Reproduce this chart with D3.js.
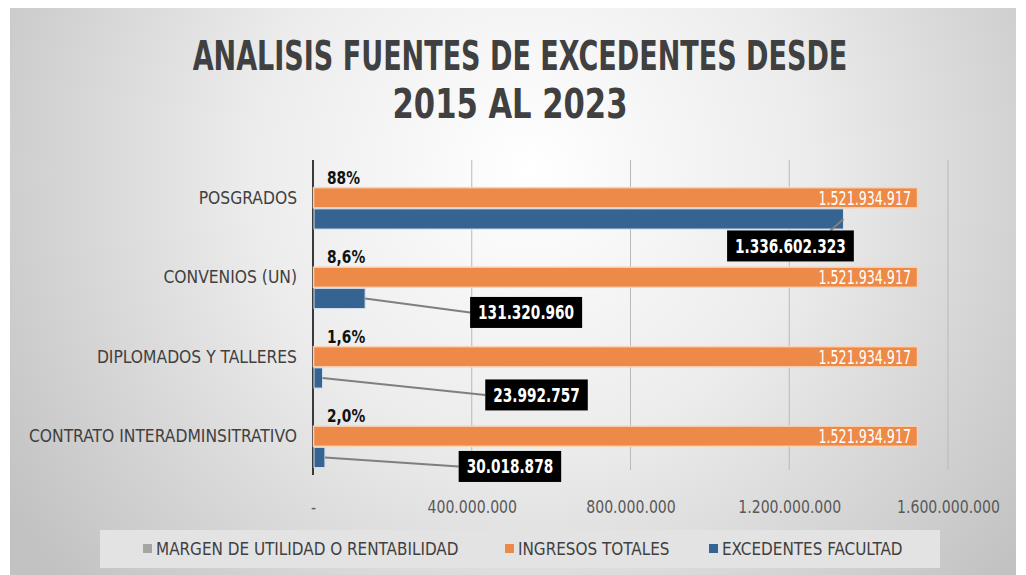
<!DOCTYPE html>
<html>
<head>
<meta charset="utf-8">
<script src="https://cdn.jsdelivr.net/npm/d3@7"></script>
<style>
  body { margin: 0; background: #fff; }
  svg { display: block; }
  text { font-family: "DejaVu Sans Condensed", "DejaVu Sans", sans-serif; }
</style>
</head>
<body>
<script>
"use strict";
// categories, top to bottom
const categories = ["POSGRADOS", "CONVENIOS (UN)", "DIPLOMADOS Y TALLERES", "CONTRATO INTERADMINSITRATIVO"];
const seriesNames = ["MARGEN DE UTILIDAD O RENTABILIDAD", "INGRESOS TOTALES", "EXCEDENTES FACULTAD"];
const margen = [0.88, 0.086, 0.016, 0.020];
const margenLabels = ["88%", "8,6%", "1,6%", "2,0%"];
const ingresos = [1521934917, 1521934917, 1521934917, 1521934917];
const excedentes = [1336602323, 131320960, 23992757, 30018878];
const xTicks = [0, 400000000, 800000000, 1200000000, 1600000000];

// where the blue data labels sit, relative to the bar end
const labelOffsets = [[-53, 27], [161, 14], [214, 17], [185, 9]];

const colors = ["#a5a5a5", "#ee8a48", "#356493"];

const width = 1026, height = 575;
const margin = {top: 158, right: 78, bottom: 100, left: 313};

const locale = d3.formatLocale({decimal: ",", thousands: ".", grouping: [3], currency: ["$", ""]});
const fmt = locale.format(",d");
const fmtTick = d => d === 0 ? "-" : fmt(d);

// narrow the text a bit, the original font is a condensed one
function squeeze(sel, f) {
    sel.each(function() {
        const len = this.getComputedTextLength();
        d3.select(this)
            .attr("textLength", len * f)
            .attr("lengthAdjust", "spacingAndGlyphs");
    });
}

const svg = d3.select("body").append("svg")
    .attr("width", width)
    .attr("height", height);

// background
const defs = svg.append("defs");
const grad = defs.append("radialGradient")
    .attr("id", "bg")
    .attr("gradientUnits", "userSpaceOnUse")
    .attr("cx", 530).attr("cy", 170).attr("r", 620);
grad.append("stop").attr("offset", "0%").attr("stop-color", "#ffffff");
grad.append("stop").attr("offset", "45%").attr("stop-color", "#ececec");
grad.append("stop").attr("offset", "100%").attr("stop-color", "#c2c2c2");

svg.append("rect")
    .attr("x", 10).attr("y", 8)
    .attr("width", 1006).attr("height", 567)
    .attr("fill", "url(#bg)");

// title, scaled horizontally to the condensed look
const titleLines = [
    {text: "ANALISIS FUENTES DE EXCEDENTES DESDE", x: 520, y: 70, w: 655},
    {text: "2015 AL 2023", x: 510, y: 118, w: 235}
];
titleLines.forEach(l => {
    const t = svg.append("text")
        .attr("fill", "#404040")
        .attr("font-weight", "bold")
        .attr("font-size", 40)
        .attr("text-anchor", "middle")
        .text(l.text);
    const len = t.node().getComputedTextLength();
    t.attr("transform", `translate(${l.x},${l.y}) scale(${l.w / len},1)`);
});

// scales
const x = d3.scaleLinear()
    .domain([0, 1600000000])
    .range([margin.left, 948]);

const y = d3.scaleBand()
    .domain(categories)
    .range([158, 476])
    .paddingInner(0.2)
    .paddingOuter(0.1);

const ySub = d3.scaleBand()
    .domain(seriesNames)
    .range([0, y.bandwidth()]);

// gridlines
svg.append("g")
    .selectAll("line")
    .data(xTicks.slice(1))
    .join("line")
    .attr("x1", d => x(d)).attr("x2", d => x(d))
    .attr("y1", 160).attr("y2", 470)
    .attr("stroke", "#b9b9b9")
    .attr("stroke-width", 1);

// x axis labels
const xAxis = svg.append("g")
    .attr("transform", "translate(0, 498)")
    .call(d3.axisBottom(x).tickValues(xTicks).tickFormat(fmtTick).tickSize(0));
xAxis.select(".domain").remove();
xAxis.selectAll("text")
    .attr("font-size", 17)
    .attr("fill", "#595959")
    .attr("font-family", "DejaVu Sans Condensed, DejaVu Sans, sans-serif")
    .call(squeeze, 0.92);

// y axis
const yAxis = svg.append("g")
    .attr("transform", `translate(${margin.left}, 0)`)
    .call(d3.axisLeft(y).tickSize(0).tickPadding(16));
yAxis.select(".domain")
    .attr("d", `M0,160V475`)
    .attr("stroke", "#3a3a3a")
    .attr("stroke-width", 2);
yAxis.selectAll("text")
    .attr("font-size", 18)
    .attr("fill", "#404040")
    .attr("font-family", "DejaVu Sans Condensed, DejaVu Sans, sans-serif")
    .call(squeeze, 0.96);

const rows = categories.map((c, i) => ({
    cat: c, margen: margen[i], ingresos: ingresos[i], excedentes: excedentes[i], i
}));

// margen bars (tiny) + labels
svg.append("g").selectAll("rect")
    .data(rows)
    .join("rect")
    .attr("x", x(0))
    .attr("y", d => y(d.cat) + ySub(seriesNames[0]))
    .attr("width", d => x(d.margen) - x(0))
    .attr("height", ySub.bandwidth())
    .attr("fill", colors[0]);

svg.append("g").selectAll("text")
    .data(rows)
    .join("text")
    .attr("x", d => x(d.margen) + 14)
    .attr("y", d => y(d.cat) + ySub(seriesNames[0]) + ySub.bandwidth() / 2 + 1)
    .attr("dy", "0.35em")
    .attr("font-size", 17)
    .attr("font-weight", "bold")
    .attr("fill", "#111")
    .text(d => margenLabels[d.i])
    .call(squeeze, 0.9);

// ingresos bars
svg.append("g").selectAll("rect")
    .data(rows)
    .join("rect")
    .attr("x", x(0) + 0.5)
    .attr("y", d => y(d.cat) + ySub(seriesNames[1]) + 0.5)
    .attr("width", d => x(d.ingresos) - x(0))
    .attr("height", ySub.bandwidth() - 1)
    .attr("fill", colors[1])
    .attr("stroke", "#f9d2b6")
    .attr("stroke-width", 1.5);

svg.append("g").selectAll("text")
    .data(rows)
    .join("text")
    .attr("x", d => x(d.ingresos) - 6)
    .attr("y", d => y(d.cat) + ySub(seriesNames[1]) + ySub.bandwidth() / 2)
    .attr("dy", "0.36em")
    .attr("text-anchor", "end")
    .attr("font-size", 19)
    .attr("fill", "#fff")
    .text(d => fmt(d.ingresos))
    .call(squeeze, 0.74);

// excedentes bars
svg.append("g").selectAll("rect")
    .data(rows)
    .join("rect")
    .attr("x", x(0) + 1)
    .attr("y", d => y(d.cat) + ySub(seriesNames[2]) + 0.5)
    .attr("width", d => x(d.excedentes) - x(0) - 1)
    .attr("height", ySub.bandwidth() - 1)
    .attr("fill", colors[2])
    .attr("stroke", "#d6e0ea")
    .attr("stroke-width", 1);

// excedentes labels with leader lines
svg.append("g").selectAll("g")
    .data(rows)
    .join("g")
    .each(function(d) {
        const g = d3.select(this);
        const bx = x(d.excedentes);
        const by = y(d.cat) + ySub(seriesNames[2]) + ySub.bandwidth() / 2;
        const [dx, dy] = labelOffsets[d.i];
        const cx = bx + dx, cy = by + dy;
        const t = g.append("text")
            .attr("x", cx).attr("y", cy)
            .attr("dy", "0.36em")
            .attr("text-anchor", "middle")
            .attr("font-size", 19)
            .attr("font-weight", "bold")
            .attr("fill", "#fff")
            .text(fmt(d.excedentes))
            .call(squeeze, 0.8);
        const w = +t.attr("textLength") + 16;
        const h = 31;
        g.insert("rect", "text")
            .attr("x", cx - w / 2).attr("y", cy - h / 2)
            .attr("width", w).attr("height", h)
            .attr("fill", "#000");
        let ex, ey;
        if (dx < 0) { ex = cx + 40; ey = cy - h / 2; }
        else { ex = cx - w / 2; ey = cy; }
        g.insert("line", "rect")
            .attr("x1", bx).attr("y1", by)
            .attr("x2", ex).attr("y2", ey)
            .attr("stroke", "#7f7f7f")
            .attr("stroke-width", 2);
    });

// legend
const legend = svg.append("g");
legend.append("rect")
    .attr("x", 100).attr("y", 530)
    .attr("width", 840).attr("height", 38)
    .attr("fill", "#e3e3e3");
const legendX = [143, 505, 709];
seriesNames.forEach((s, i) => {
    legend.append("rect")
        .attr("x", legendX[i]).attr("y", 544)
        .attr("width", 9).attr("height", 9)
        .attr("fill", colors[i]);
    legend.append("text")
        .attr("x", legendX[i] + 13).attr("y", 549)
        .attr("dy", "0.35em")
        .attr("font-size", 18)
        .attr("fill", "#404040")
        .text(s)
        .call(squeeze, 0.94);
});
</script>
</body>
</html>
